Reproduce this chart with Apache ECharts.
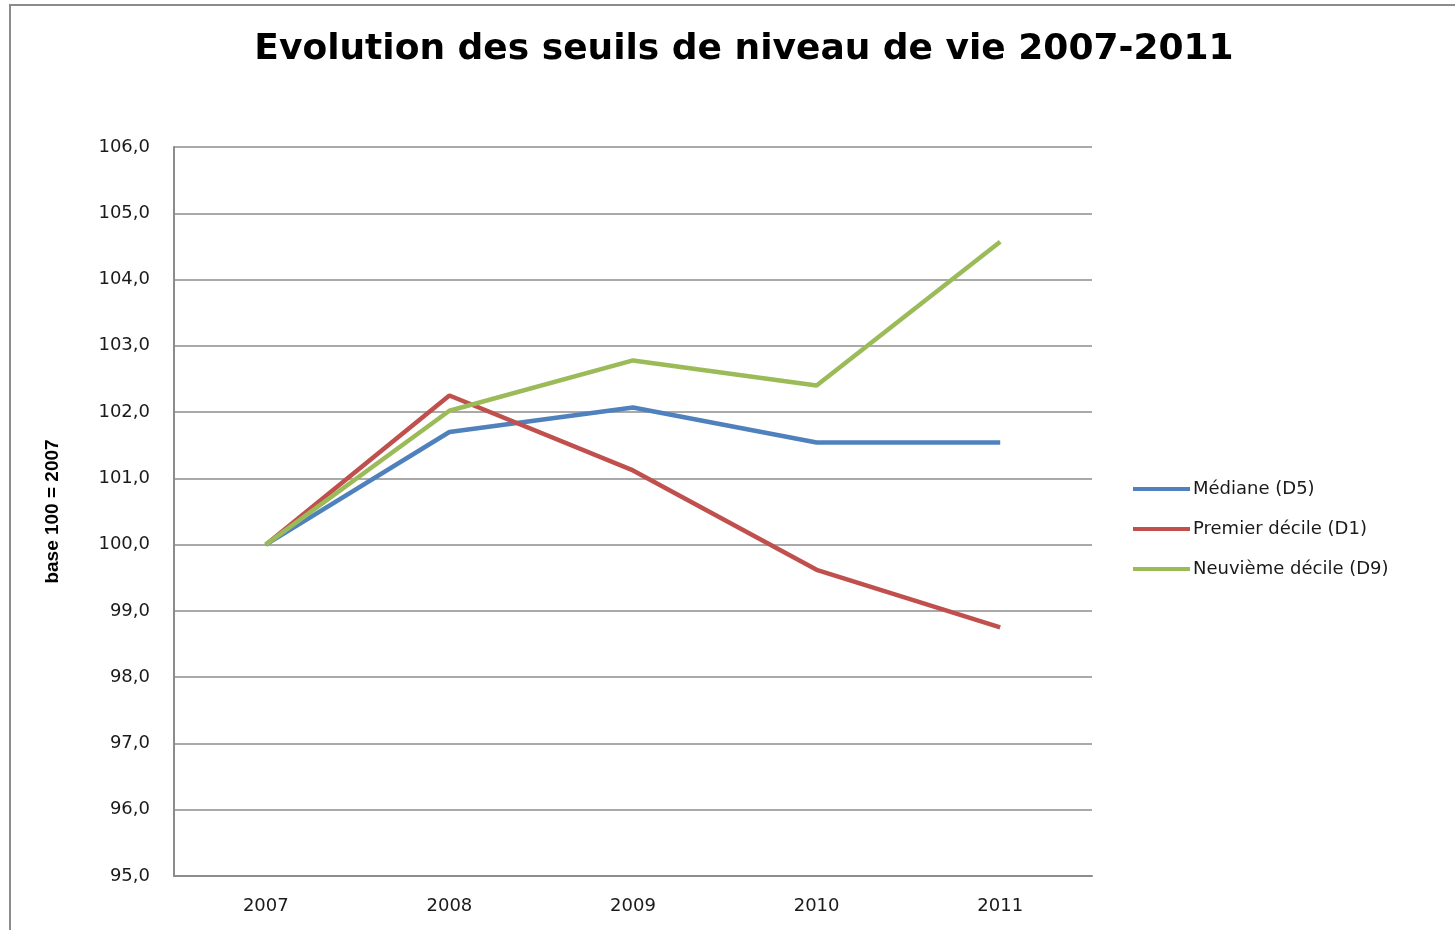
<!DOCTYPE html>
<html>
<head>
<meta charset="utf-8">
<script src="https://cdn.jsdelivr.net/npm/echarts@6/dist/echarts.min.js"></script>
<style>
  html, body { margin: 0; padding: 0; background: #fff; }
  #chart { width: 1455px; height: 930px; }
</style>
</head>
<body>
<div id="chart"></div>
<script>
const years = ['2007', '2008', '2009', '2010', '2011']
const mediane = [100.0, 101.70, 102.07, 101.54, 101.54]
const premierDecile = [100.0, 102.25, 101.12, 99.62, 98.75]
const neuviemeDecile = [100.0, 102.02, 102.78, 102.40, 104.57]

const gray = '#8c8c8c'
const font = 'DejaVu Sans'

function setNiveauVieChart() {
    const myChart = echarts.init(document.getElementById('chart'))

    const option = {
        backgroundColor: '#fff',
        animation: false,
        color: ['#4f81bd', '#c0504d', '#9bbb59'],
        title: {
            text: 'Evolution des seuils de niveau de vie 2007-2011',
            left: 739,
            top: 27,
            textAlign: 'center',
            textStyle: {
                fontFamily: font,
                fontWeight: 'bold',
                fontSize: 36,
                color: '#000'
            }
        },
        graphic: [{
            type: 'rect',
            shape: { x: 10, y: 5, width: 1500, height: 1000 },
            style: { fill: 'none', stroke: gray, lineWidth: 2 },
            silent: true
        }],
        legend: {
            orient: 'vertical',
            left: 1128,
            top: 475,
            itemWidth: 57,
            itemHeight: 4,
            itemGap: 22,
            icon: 'rect',
            textStyle: {
                fontFamily: font,
                fontSize: 18,
                color: '#1a1a1a',
                padding: [0, 0, 0, -2]
            },
            data: ['Médiane (D5)', 'Premier décile (D1)', 'Neuvième décile (D9)']
        },
        grid: {
            left: 174,
            right: 363,
            top: 147,
            bottom: 54
        },
        xAxis: {
            type: 'category',
            data: years,
            boundaryGap: true,
            axisLine: { lineStyle: { color: gray, width: 2 } },
            axisTick: { show: false },
            axisLabel: {
                margin: 21,
                fontFamily: font,
                fontSize: 18,
                color: '#1a1a1a'
            }
        },
        yAxis: {
            type: 'value',
            min: 95,
            max: 106,
            interval: 1,
            name: 'base 100 = 2007',
            nameLocation: 'middle',
            nameGap: 112,
            nameRotate: 90,
            nameTextStyle: {
                fontFamily: 'Liberation Sans',
                fontWeight: 'bold',
                fontSize: 19,
                color: '#000'
            },
            axisLine: { show: true, lineStyle: { color: gray, width: 2 } },
            axisTick: { show: false },
            splitLine: { lineStyle: { color: gray, width: 1.5 } },
            axisLabel: {
                margin: 24,
                fontFamily: font,
                fontSize: 18,
                color: '#1a1a1a',
                formatter: function (v) {
                    return v.toFixed(1).replace('.', ',')
                }
            }
        },
        series: [{
            name: 'Médiane (D5)',
            type: 'line',
            data: mediane,
            symbol: 'none',
            lineStyle: { width: 4.5 }
        }, {
            name: 'Premier décile (D1)',
            type: 'line',
            data: premierDecile,
            symbol: 'none',
            lineStyle: { width: 4.5 }
        }, {
            name: 'Neuvième décile (D9)',
            type: 'line',
            data: neuviemeDecile,
            symbol: 'none',
            lineStyle: { width: 4.5 }
        }]
    }
    myChart.setOption(option)
}

setNiveauVieChart()
</script>
</body>
</html>
